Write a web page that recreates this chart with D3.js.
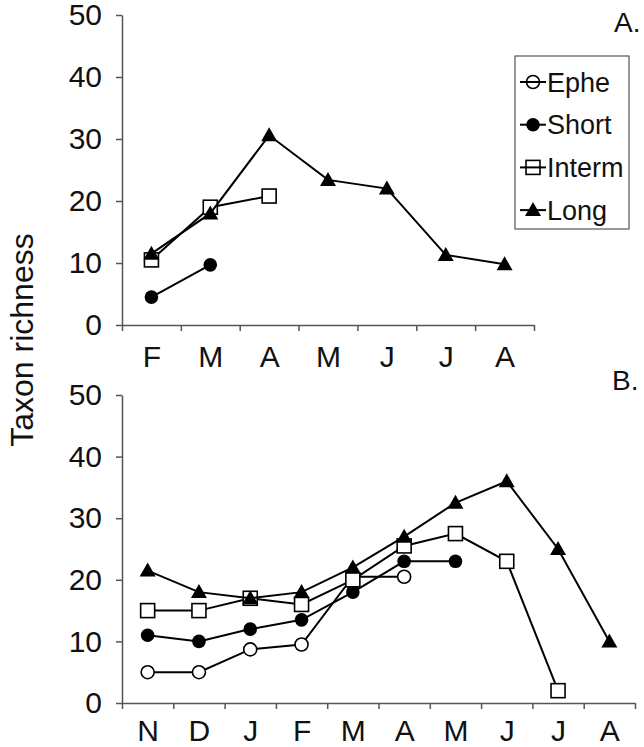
<!DOCTYPE html>
<html>
<head>
<meta charset="utf-8">
<script src="https://cdn.jsdelivr.net/npm/d3@7"></script>
<style>
    body { margin: 0; background: #fff; }
    svg { font-family: "Liberation Sans", Arial, sans-serif; }
    .axis path, .axis line { stroke: #555; stroke-width: 1.5; }
    .axis text { fill: #111; font-size: 30px; }
    .series-line { fill: none; stroke: #000; stroke-width: 2; }
</style>
</head>
<body>
<script>
/*
 Data
 */

var monthsA = ['F', 'M', 'A', 'M', 'J', 'J', 'A'];
var monthsB = ['N', 'D', 'J', 'F', 'M', 'A', 'M', 'J', 'J', 'A'];
var yTicks = [0, 10, 20, 30, 40, 50];
var seriesNames = ['Ephe', 'Short', 'Interm', 'Long'];

// panel A (null = no sample)
var epheA = [null, null, null, null, null, null, null];
var shortA = [4.5, 9.7, null, null, null, null, null];
var intermA = [10.5, 19, 20.8, null, null, null, null];
var longA = [11.5, 18, 30.6, 23.4, 22, 11.3, 9.8];

// panel B
var epheB = [5, 5, 8.7, 9.5, 20.5, 20.5, null, null, null, null];
var shortB = [11, 10, 12, 13.5, 18, 23, 23, null, null, null];
var intermB = [15, 15, 17, 16, 20, 25.5, 27.5, 23, 2, null];
var longB = [21.5, 18, 17, 18, 22, 27, 32.5, 36, 25, 10];

var W = 644, H = 747;

var svg = d3.select('body').append('svg')
    .attr('width', W)
    .attr('height', H);

/*
 Markers
 */

function drawMarker(g, name, x, y, legend) {
    if (name === 'Ephe') {
        g.append('circle').attr('cx', x).attr('cy', y).attr('r', 6.5)
            .attr('fill', legend ? 'none' : '#fff').attr('stroke', '#000').attr('stroke-width', 1.6);
    } else if (name === 'Short') {
        g.append('circle').attr('cx', x).attr('cy', y).attr('r', 6.8)
            .attr('fill', '#000');
    } else if (name === 'Interm') {
        g.append('rect').attr('x', x - 7).attr('y', y - 7).attr('width', 14).attr('height', 14)
            .attr('fill', legend ? 'none' : '#fff').attr('stroke', '#000').attr('stroke-width', 1.6);
    } else {
        g.append('path')
            .attr('d', 'M' + x + ',' + (y - 8) + 'L' + (x + 8) + ',' + (y + 6) + 'L' + (x - 8) + ',' + (y + 6) + 'Z')
            .attr('fill', '#000');
    }
}

/*
 Panel creation
 */

function makePanel(svg, cfg) {
    var n = cfg.months.length;

    var x = d3.scaleLinear()
        .domain([0, n])
        .range([cfg.x0, cfg.x1]);

    var y = d3.scaleLinear()
        .domain([0, 50])
        .range([cfg.y1, cfg.y0]);

    var g = svg.append('g');

    g.append('g')
        .classed('axis', true)
        .attr('transform', 'translate(' + cfg.x0 + ',0)')
        .call(d3.axisLeft(y).tickValues(yTicks).tickSize(6).tickSizeOuter(0).tickPadding(14));

    g.append('g')
        .classed('axis', true)
        .attr('transform', 'translate(0,' + cfg.y1 + ')')
        .call(d3.axisBottom(x).tickValues(d3.range(n + 1)).tickSize(6).tickSizeOuter(0)
            .tickFormat(function () { return ''; }));

    var lab = g.append('g')
        .classed('axis', true)
        .attr('transform', 'translate(0,' + cfg.y1 + ')')
        .call(d3.axisBottom(x)
            .tickValues(d3.range(n).map(function (i) { return i + 0.5; }))
            .tickSize(0)
            .tickPadding(cfg.labelPad)
            .tickFormat(function (d) { return cfg.months[Math.floor(d)]; }));
    lab.select('.domain').remove();

    var line = d3.line()
        .defined(function (d) { return d != null; })
        .x(function (d, i) { return x(i + 0.5); })
        .y(function (d) { return y(d); });

    cfg.series.forEach(function (s, k) {
        var sg = g.append('g').classed('series', true);
        sg.append('path')
            .classed('series-line', true)
            .attr('d', line(s));
        s.forEach(function (v, i) {
            if (v == null) return;
            drawMarker(sg, seriesNames[k], x(i + 0.5), y(v), false);
        });
    });

    g.append('text')
        .attr('x', cfg.tagX)
        .attr('y', cfg.tagY)
        .attr('font-size', 28)
        .attr('fill', '#111')
        .text(cfg.tag);

    return g;
}

makePanel(svg, {
    months: monthsA,
    series: [epheA, shortA, intermA, longA],
    x0: 122, x1: 534, y0: 15, y1: 325,
    labelPad: 21,
    tag: 'A.', tagX: 614, tagY: 32
});

makePanel(svg, {
    months: monthsB,
    series: [epheB, shortB, intermB, longB],
    x0: 122, x1: 635, y0: 395, y1: 703,
    labelPad: 17,
    tag: 'B.', tagX: 612, tagY: 390
});

/*
 Legend
 */

var legend = svg.append('g').classed('legend', true);

legend.append('rect')
    .attr('x', 515).attr('y', 56)
    .attr('width', 114).attr('height', 173)
    .attr('fill', '#fff')
    .attr('stroke', '#555')
    .attr('stroke-width', 1.2);

seriesNames.forEach(function (name, i) {
    var ly = 82 + i * 42.7;
    legend.append('line')
        .attr('x1', 520).attr('x2', 546)
        .attr('y1', ly).attr('y2', ly)
        .attr('stroke', '#000').attr('stroke-width', 2);
    drawMarker(legend, name, 533, ly, true);
    legend.append('text')
        .attr('x', 547)
        .attr('y', ly)
        .attr('dy', '0.36em')
        .attr('font-size', 27)
        .attr('fill', '#111')
        .text(name);
});

/*
 Y title
 */

svg.append('text')
    .attr('transform', 'translate(33,340) rotate(-90)')
    .attr('text-anchor', 'middle')
    .attr('font-size', 32)
    .attr('fill', '#111')
    .text('Taxon richness');
</script>
</body>
</html>
